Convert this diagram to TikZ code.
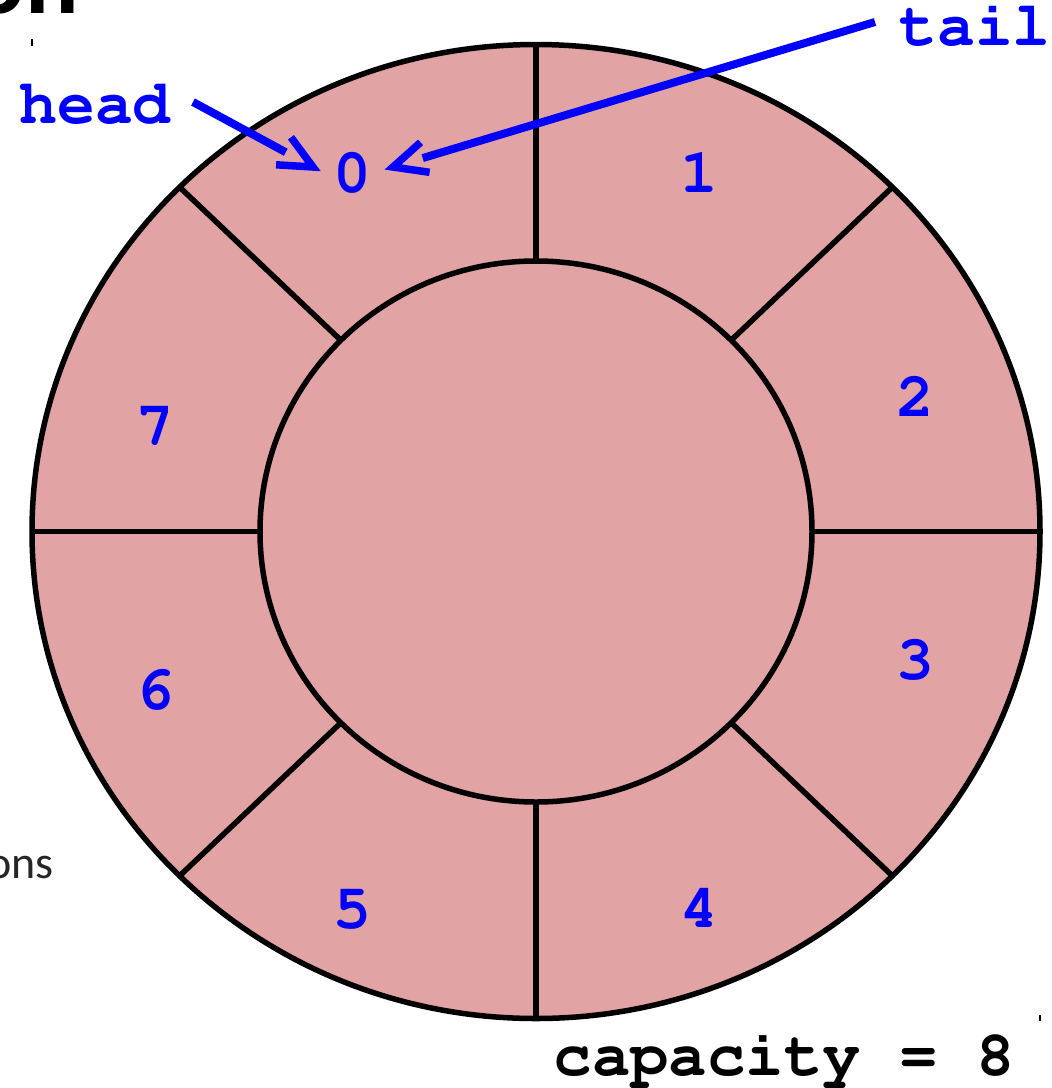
\documentclass[tikz,border=0pt]{standalone}
\usepackage[T1]{fontenc}
\usepackage{fontspec}
\newfontfamily\calibrifont{Carlito}
\newcommand\courbold{\fontencoding{T1}\fontfamily{pcr}\fontseries{b}\selectfont}
\usetikzlibrary{calc}
\definecolor{cellpink}{RGB}{226,163,164}
\definecolor{labelblue}{RGB}{0,0,255}
\tikzset{
  ring/.style={draw=black,line width=5.5pt,fill=cellpink},
  spoke/.style={draw=black,line width=5.5pt},
  idx/.style={text=labelblue,font=\courbold\fontsize{63}{70}\selectfont,inner sep=0pt},
  ptrlabel/.style={text=labelblue,font=\courbold\fontsize{63}{70}\selectfont,inner sep=0pt},
  ptrshaft/.style={draw=labelblue,line width=8pt},
  ptrbarb/.style={draw=labelblue,line width=7.5pt,line join=miter,miter limit=10},
  tick/.style={draw=black,line width=1.5pt}
}
\begin{document}
\begin{tikzpicture}[x=1pt,y=-1pt]
\useasboundingbox (0,0) rectangle (1052,1088);
% partial slide texts
\begin{scope}
\clip (0,0) rectangle (1052,1088);
\node[anchor=base east,inner sep=0pt,font=\calibrifont\bfseries\fontsize{100}{110}\selectfont] (title) at (79,13) {on};
\node[anchor=base east,inner sep=0pt,font=\calibrifont\fontsize{46}{52}\selectfont,text=black!85] (ops) at (54,878) {ons};
\end{scope}
% ring
\draw[ring] (536,531.5) ellipse [x radius=504pt, y radius=487pt];
\draw[ring] (536,531.5) ellipse [x radius=276pt, y radius=270.5pt];
\foreach \a in {0,45,...,315}
  \draw[spoke] ({536+276*cos(\a)},{531.5+270.5*sin(\a)}) -- ({536+504*cos(\a)},{531.5+487*sin(\a)});
% index labels
\node[idx] (c0) at (352,173) {0};
\node[idx] (c1) at (699,173) {1};
\node[idx] (c2) at (915,397) {2};
\node[idx] (c3) at (915,660) {3};
\node[idx] (c4) at (699,908) {4};
\node[idx] (c5) at (352,910) {5};
\node[idx] (c6) at (155,690) {6};
\node[idx] (c7) at (155,427) {7};
% pointers
\node[ptrlabel,anchor=base] (head) at (95,123) {head};
\node[ptrlabel,anchor=base] (tail) at (975,45) {tail};
\coordinate (hs) at (193,102);
\coordinate (ht) at (313,167);
\coordinate (ts) at (875,22);
\coordinate (tt) at (393,167);
\draw[ptrshaft] (hs) -- ($(ht)!31pt!(hs)$);
\draw[ptrbarb] ($(ht)!37pt!25:(hs)$) -- (ht) -- ($(ht)!37pt!-25:(hs)$);
\draw[ptrshaft] (ts) -- ($(tt)!31pt!(ts)$);
\draw[ptrbarb] ($(tt)!37pt!25:(ts)$) -- (tt) -- ($(tt)!37pt!-25:(ts)$);
% capacity
\node[anchor=base,inner sep=0pt,font=\courbold\fontsize{64}{70}\selectfont] (cap) at (784,1075) {capacity = 8};
% crop ticks
\coordinate (k1a) at (32,39); \coordinate (k1b) at (32,46);
\coordinate (k2a) at (1040,1015); \coordinate (k2b) at (1040,1021);
\draw[tick] (k1a) -- (k1b);
\draw[tick] (k2a) -- (k2b);
\end{tikzpicture}
\end{document}
